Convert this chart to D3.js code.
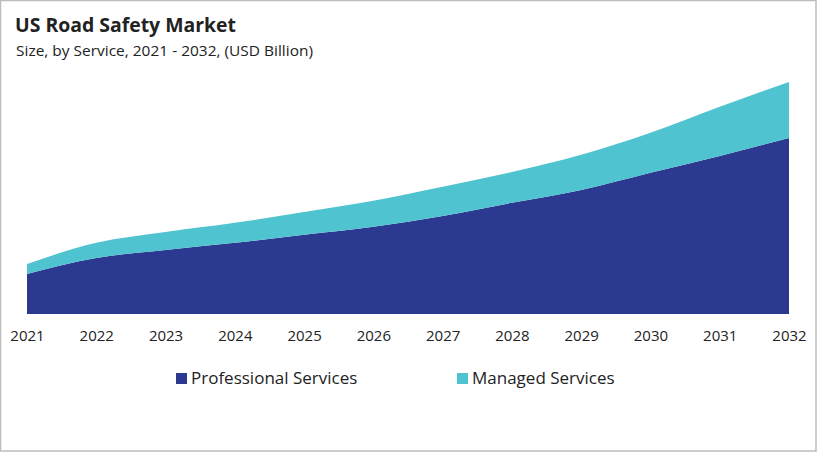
<!DOCTYPE html>
<html>
<head>
<meta charset="utf-8">
<script src="https://cdn.jsdelivr.net/npm/d3@7"></script>
<style>
  body { margin: 0; background: #fff; }
  text { font-family: "Open Sans", "Noto Sans", sans-serif; fill: #222; }
</style>
</head>
<body>
<script>
// data (USD billion, estimated)
const years = [2021, 2022, 2023, 2024, 2025, 2026, 2027, 2028, 2029, 2030, 2031, 2032]
const professional = [1.00, 1.40, 1.60, 1.78, 1.98, 2.18, 2.45, 2.78, 3.10, 3.53, 3.95, 4.40]
const managed = [0.25, 0.38, 0.45, 0.50, 0.57, 0.65, 0.73, 0.77, 0.88, 1.00, 1.23, 1.40]
const seriesNames = ["Professional Services", "Managed Services"]
const colors = ["#2b3990", "#4fc3cf"]

function setattrs(shape, dict) {
    for (let [prop, val] of Object.entries(dict)) {
        shape.attr(prop, val)
    }
}

const W = 817, H = 452
const svg = d3.select("body").append("svg")
setattrs(svg, {"width": W, "height": H})

// outer frame
setattrs(svg.append("rect"), {
    "x": 0.5, "y": 0.5, "width": W - 1.5, "height": H - 1.5,
    "fill": "#fff", "stroke": "#bdbdbd", "stroke-width": 1.5
})

svg.append("text").text("US Road Safety Market")
    .attr("x", 15).attr("y", 32)
    .attr("font-size", 20).attr("font-weight", "bold")
    .attr("textLength", 221).attr("lengthAdjust", "spacingAndGlyphs")
svg.append("text").text("Size, by Service, 2021 - 2032, (USD Billion)")
    .attr("x", 16).attr("y", 56)
    .attr("font-size", 15)
    .attr("textLength", 297).attr("lengthAdjust", "spacingAndGlyphs")

const x = d3.scaleLinear().domain([2021, 2032]).range([27, 789])
const y = d3.scaleLinear().domain([0, 6]).range([314, 74])

const table = years.map((yr, i) => ({year: yr, p: professional[i], m: managed[i]}))
const stacked = d3.stack().keys(["p", "m"])(table)

const area = d3.area()
    .x(d => x(d.data.year))
    .y0(d => y(d[0]))
    .y1(d => y(d[1]))
    .curve(d3.curveMonotoneX)

svg.selectAll("path.layer").data(stacked).join("path")
    .attr("class", "layer")
    .attr("d", area)
    .attr("fill", (d, i) => colors[i])

const axis = d3.axisBottom(x).tickValues(years).tickFormat(d3.format("d")).tickSize(0).tickPadding(0)
const gx = svg.append("g").attr("transform", "translate(0,330)").call(axis)
gx.select(".domain").remove()
gx.selectAll("text").attr("font-size", 15).attr("fill", "#222")
    .attr("font-family", "Open Sans, sans-serif").attr("dy", "0.71em")

// legend
const legendX = [176, 457]
const lg = svg.selectAll("g.leg").data(seriesNames).join("g")
    .attr("class", "leg")
    .attr("transform", (d, i) => `translate(${legendX[i]},372)`)
lg.append("rect").attr("width", 11).attr("height", 11).attr("y", 1)
    .attr("fill", (d, i) => colors[i])
lg.append("text").text(d => d).attr("x", 15).attr("y", 12)
    .attr("font-size", 17)
</script>
</body>
</html>
